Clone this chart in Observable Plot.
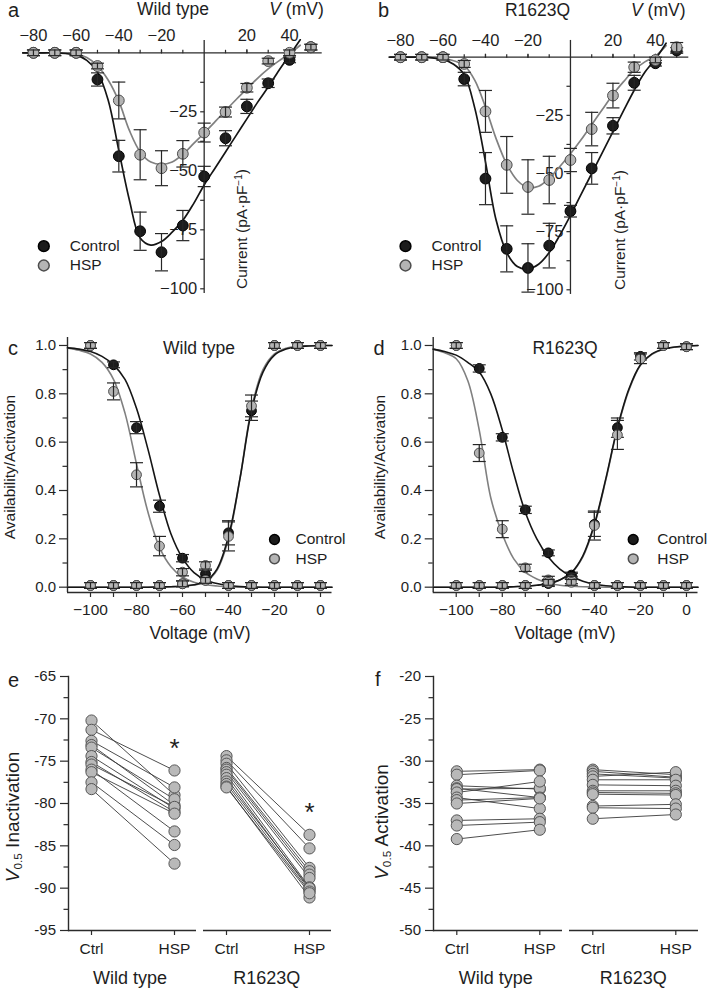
<!DOCTYPE html>
<html><head><meta charset="utf-8">
<script src="https://cdn.jsdelivr.net/npm/d3@7"></script>
<script src="https://cdn.jsdelivr.net/npm/@observablehq/plot@0.6"></script>
<style>
body{margin:0;background:#fff;}
#fig{position:relative;width:709px;height:989px;font-family:"Liberation Sans",Arial,sans-serif;color:#1e1e1e;overflow:hidden;background:#fff}
.lbl{position:absolute;white-space:nowrap;line-height:1}
.lbl sup{font-size:0.65em;vertical-align:0.55em;line-height:0}
.lbl sub{font-size:0.62em;vertical-align:-0.3em;line-height:0}
</style></head><body><div id="fig"></div><script>
// ---------- Panel a / b : current–voltage ----------
const ivV = [-80,-70,-60,-50,-40,-30,-20,-10,0,10,20,30,40,50];
const aCtrl    = [0,0,0,-11.3,-43.8,-75.6,-84.5,-73.2,-52.4,-36.2,-22.7,-12.9,-3.0,2.4];
const aCtrlErr = [1.2,1.2,1.2,2.8,6.7,8.1,7.9,6.4,4.3,3.2,3.0,1.8,1.2,1.2];
const aHsp     = [0,0,0,-5.6,-20.2,-43.2,-48.9,-42.8,-33.8,-25.1,-14.8,-3.5,0,2.4];
const aHspErr  = [1.2,1.2,1.2,1.2,7.8,10.6,7.4,5.6,4.0,2.1,1.8,1.2,1.2,1.2];
const bCtrl    = [0,0,0,-9.4,-52.2,-82.4,-90.6,-81.0,-66.2,-47.8,-29.5,-11.0,-2.6,2.9];
const bCtrlErr = [1.2,1.2,1.2,2.9,11.2,9.9,10.4,9.6,2.5,6.8,3.5,3.2,1.2,1.2];
const bHsp     = [0,0,0,-2.9,-23.3,-46.3,-55.8,-52.8,-44.2,-30.9,-16.5,-4.3,-1.2,4.3];
const bHspErr  = [1.2,1.2,1.2,1.5,9.0,12.2,11.7,10.2,5.0,7.2,5.3,2.2,1.2,2.0];
const ivFitV   = [-85,-80,-75,-70,-65,-60,-55,-50,-45,-40,-35,-30,-25,-20,-15,-10,-5,0,5,10,15,20,25,30,35,40,45];
const aFitCtrl = [0,0,0,0,-0.3,-1,-3.2,-8.2,-20,-41.4,-62.6,-78.5,-81.5,-80,-76,-71,-64,-56,-49,-42,-35,-28,-21,-14.5,-7.5,-1,5.5];
const aFitHsp  = [0,0,0,0,-0.2,-0.5,-2,-5.5,-11.5,-20.5,-33,-42,-46.3,-47.3,-46.3,-43,-38.5,-34,-29.3,-24.5,-19.8,-15.3,-10.8,-6.8,-3.4,-0.4,3.2];
const bFitCtrl = [0,0,0,0,-0.3,-1,-3,-7.5,-22,-45,-70,-84,-90,-91,-89,-84,-76.5,-68,-59,-50,-41,-32,-23,-14.2,-6.5,-0.8,6];
const bFitHsp  = [0,0,0,0,-0.2,-0.5,-1.5,-3.5,-10,-21.5,-35,-46,-53,-56,-55.5,-52,-47,-41.5,-35.5,-29,-22.5,-16,-10.5,-5.5,-2,0.5,5];
const ivXMinorTicks = [-80,-70,-60,-50,-40,-30,-20,-10,10,20,30,40,50];
const ivXLabelTicks = [-80,-60,-40,-20,20,40];
const ivYTicks = [-12.5,-25,-37.5,-50,-62.5,-75,-87.5,-100];
const ivYLabelTicks = [-25,-50,-75,-100];

// ---------- Panel c / d : availability / activation ----------
const ssV = [-100,-90,-80,-70,-60,-50,-40,-30,-20,-10,0];
const cInactCtrl    = [1.0,0.92,0.66,0.335,0.12,0.055,0.007,0.007,0.007,0.007,0.007];
const cInactCtrlErr = [0.012,0.012,0.025,0.025,0.015,0.015,0.012,0.012,0.012,0.012,0.012];
const cActCtrl      = [0.007,0.007,0.007,0.007,0.014,0.03,0.225,0.73,1.0,1.0,1.0];
const cActCtrlErr   = [0.012,0.012,0.012,0.012,0.012,0.012,0.05,0.04,0.012,0.012,0.012];
const cInactHsp     = [1.0,0.81,0.465,0.17,0.062,0.09,0.007,0.007,0.007,0.007,0.007];
const cInactHspErr  = [0.012,0.035,0.05,0.04,0.015,0.015,0.012,0.012,0.012,0.012,0.012];
const cActHsp       = [0.007,0.007,0.007,0.007,0.014,0.028,0.21,0.75,1.0,1.0,1.0];
const cActHspErr    = [0.012,0.012,0.012,0.012,0.012,0.012,0.06,0.045,0.012,0.012,0.012];
const dInactCtrl    = [1.0,0.905,0.62,0.32,0.142,0.05,0.007,0.007,0.007,0.007,0.007];
const dInactCtrlErr = [0.012,0.015,0.015,0.015,0.012,0.012,0.012,0.012,0.012,0.012,0.012];
const dActCtrl      = [0.007,0.007,0.007,0.007,0.015,0.045,0.26,0.66,0.955,1.0,0.995];
const dActCtrlErr   = [0.012,0.012,0.012,0.012,0.012,0.012,0.05,0.04,0.015,0.012,0.012];
const dInactHsp     = [1.0,0.555,0.24,0.08,0.03,0.03,0.007,0.007,0.007,0.007,0.007];
const dInactHspErr  = [0.012,0.035,0.035,0.015,0.015,0.015,0.012,0.012,0.012,0.012,0.012];
const dActHsp       = [0.007,0.007,0.007,0.007,0.02,0.02,0.255,0.63,0.945,1.0,0.995];
const dActHspErr    = [0.012,0.012,0.012,0.012,0.012,0.012,0.06,0.06,0.02,0.012,0.012];
const ssFitV = [-110,-105,-100,-95,-90,-85,-80,-75,-70,-65,-60,-55,-50,-45,-40,-35,-30,-25,-20,-15,-10,-5,0,5];
const cFitInactCtrl = [0.99,0.985,0.975,0.955,0.92,0.86,0.74,0.57,0.38,0.22,0.12,0.06,0.03,0.015,0.007,0.003,0.001,0,0,0,0,0,0,0];
const cFitInactHsp  = [0.99,0.98,0.965,0.93,0.86,0.72,0.51,0.31,0.165,0.085,0.042,0.02,0.01,0.005,0.002,0,0,0,0,0,0,0,0,0];
const cFitActCtrl   = [0,0,0,0,0,0,0,0,0.001,0.002,0.005,0.01,0.025,0.075,0.21,0.45,0.73,0.89,0.96,0.985,0.995,0.998,1,1];
const cFitActHsp    = [0,0,0,0,0,0,0,0,0.001,0.002,0.004,0.009,0.022,0.07,0.2,0.45,0.74,0.9,0.965,0.988,0.996,0.999,1,1];
const dFitInactCtrl = [0.985,0.975,0.96,0.93,0.89,0.8,0.65,0.47,0.31,0.2,0.125,0.075,0.045,0.025,0.013,0.006,0.003,0.001,0,0,0,0,0,0];
const dFitInactHsp  = [0.985,0.97,0.945,0.855,0.65,0.37,0.22,0.117,0.062,0.034,0.017,0.008,0.004,0.002,0.001,0,0,0,0,0,0,0,0,0];
const dFitActCtrl   = [0,0,0,0,0,0,0,0.002,0.004,0.008,0.015,0.03,0.06,0.13,0.26,0.45,0.66,0.82,0.92,0.965,0.985,0.994,0.998,1];
const dFitActHsp    = [0,0,0,0,0,0,0,0.002,0.004,0.008,0.015,0.03,0.058,0.125,0.255,0.445,0.655,0.815,0.918,0.963,0.984,0.993,0.997,1];
const ssXDomain = [-110, 5];
const ssYDomain = [-0.022, 1.033];
const ssXLabelTicks = [-100,-80,-60,-40,-20,0];
const ssXMinorTicks = [-90,-70,-50,-30,-10];
const ssYLabelTicks = [0,0.2,0.4,0.6,0.8,1.0];
const ssYMinorTicks = [0.1,0.3,0.5,0.7,0.9];

// ---------- Panel e / f : paired V0.5 ----------
const groups = ["Wild type", "R1623Q"];
const conditions = ["Ctrl", "HSP"];
const eWtCtrl = [-70.2,-71.3,-72.6,-73.1,-73.4,-74.4,-75.1,-75.4,-76.0,-76.3,-77.5,-78.3];
const eWtHsp  = [-79.0,-76.1,-78.1,-80.2,-79.5,-80.6,-81.0,-80.4,-83.3,-81.2,-84.9,-87.1];
const eRCtrl  = [-74.4,-74.9,-75.3,-75.8,-76.0,-76.3,-76.6,-77.0,-77.4,-77.7,-78.0,-78.1];
const eRHsp   = [-83.7,-85.3,-87.6,-88.0,-88.4,-88.8,-89.9,-90.2,-90.0,-90.4,-91.1,-90.6];
const eStarY  = [-72.8, -80.4];
const fWtCtrl = [-31.2,-31.6,-32.9,-33.2,-33.3,-33.7,-34.3,-34.6,-35.0,-37.0,-37.6,-39.2];
const fWtHsp  = [-31.0,-31.1,-33.3,-34.3,-33.2,-32.4,-35.6,-34.3,-34.4,-36.8,-37.2,-38.1];
const fRCtrl  = [-31.0,-31.2,-31.5,-31.8,-32.2,-32.8,-33.5,-33.7,-33.9,-35.3,-35.5,-36.8];
const fRHsp   = [-31.6,-31.9,-32.0,-31.3,-32.2,-32.9,-33.5,-33.8,-34.0,-35.1,-35.6,-36.3];
const eYDomain = [-95, -65];
const eYTicks = [-95,-90,-85,-80,-75,-70,-65];
const eYMinor = [-92.5,-87.5,-82.5,-77.5,-72.5,-67.5];
const fYDomain = [-50, -20];
const fYTicks = [-50,-45,-40,-35,-30,-25,-20];
const fYMinor = [-47.5,-42.5,-37.5,-32.5,-27.5,-22.5];

// ---------- styling ----------
const FONT = '"Liberation Sans", Arial, sans-serif';
const AX = "#2b2b2b", ERR = "#262626";
const BLK_FILL = "#1c1c1c", BLK_STROKE = "#000";
const GRY_FILL = "#b4b4b4", GRY_STROKE = "#4d4d4d";
const BLK_LINE = "#151515", GRY_LINE = "#808080";
const TXT = "#1e1e1e";
const baseStyle = {background: "transparent", overflow: "visible", fontFamily: FONT, fontSize: "15px", color: AX};
const fig = document.getElementById("fig");

const capSym = {draw(ctx, size) { const r = Math.sqrt(size / Math.PI); ctx.moveTo(-r, 0); ctx.lineTo(r, 0); }};
const tickLeftSym = {draw(ctx, size) { const r = Math.sqrt(size / Math.PI); ctx.moveTo(-r, 0); ctx.lineTo(0, 0); }};
const minusFmt = d => d < 0 ? "\u2212" + (-d) : String(d);

function place(svg, left, top) {
  svg.style.position = "absolute"; svg.style.left = left + "px"; svg.style.top = top + "px";
  fig.appendChild(svg);
}
function lbl(html, x, base, size, anchor = "start") {
  const d = document.createElement("div"); d.className = "lbl"; d.innerHTML = html;
  d.style.fontSize = size + "px"; d.style.left = x + "px"; d.style.top = (base - 0.8465 * size) + "px";
  if (anchor === "middle") d.style.transform = "translateX(-50%)";
  if (anchor === "end") d.style.transform = "translateX(-100%)";
  fig.appendChild(d);
}
function rot(html, cx, cy, size) {
  const d = document.createElement("div"); d.className = "lbl"; d.innerHTML = html;
  d.style.fontSize = size + "px"; d.style.left = cx + "px"; d.style.top = cy + "px";
  d.style.transform = "translate(-50%,-50%) rotate(-90deg)";
  fig.appendChild(d);
}
const rows = (xs, ys, es) => xs.map((v, i) => ({v, y: ys[i], e: es[i]}));
function series(data, fill, stroke, r, capR) {
  return [
    Plot.dot(data, {x: "v", y: "y", r, fill, stroke, strokeWidth: 1}),
    Plot.ruleX(data, {x: "v", y1: d => d.y - d.e, y2: d => d.y + d.e, stroke: ERR, strokeWidth: 1.2}),
    Plot.dot(data, {x: "v", y: d => d.y + d.e, symbol: capSym, r: capR, fill: "none", stroke: ERR, strokeWidth: 1.2}),
    Plot.dot(data, {x: "v", y: d => d.y - d.e, symbol: capSym, r: capR, fill: "none", stroke: ERR, strokeWidth: 1.2})
  ];
}
function legend(dx, dy, dy2, tdx, r) {
  return [
    Plot.dot([0], {frameAnchor: "top-left", dx, dy, r, fill: BLK_FILL, stroke: BLK_STROKE}),
    Plot.dot([0], {frameAnchor: "top-left", dx, dy: dy2, r, fill: GRY_FILL, stroke: GRY_STROKE}),
    Plot.text(["Control"], {frameAnchor: "top-left", dx: tdx, dy, textAnchor: "start", lineAnchor: "middle", fontSize: 15.5, fill: TXT}),
    Plot.text(["HSP"], {frameAnchor: "top-left", dx: tdx, dy: dy2, textAnchor: "start", lineAnchor: "middle", fontSize: 15.5, fill: TXT})
  ];
}

// ---------- IV panels ----------
function ivPanel(cfg) {
  const fit = ivFitV.map((v, i) => ({v, ctrl: cfg.fitCtrl[i], hsp: cfg.fitHsp[i]}));
  return Plot.plot({
    width: cfg.width, height: 300,
    marginLeft: cfg.ml, marginRight: cfg.mr, marginTop: cfg.mt, marginBottom: cfg.mb,
    x: {domain: cfg.xDomain},
    y: {domain: [-100, 0], axis: null},
    style: baseStyle,
    marks: [
      Plot.ruleY([0], {stroke: AX, strokeWidth: 1.3}),
      Plot.ruleX([0], {y1: cfg.yTop, y2: -102, stroke: AX, strokeWidth: 1.3}),
      Plot.axisX({anchor: "top", ticks: ivXMinorTicks, tickSize: 3.5, tickFormat: () => "", label: null, strokeWidth: 1.2}),
      Plot.axisX({anchor: "top", ticks: ivXLabelTicks, tickSize: 4, tickPadding: 7.5, fontSize: 16.5, label: null, strokeWidth: 1.2, fill: TXT}),
      Plot.dot(ivYTicks, {x: 0, y: d => d, symbol: tickLeftSym, r: 4, fill: "none", stroke: AX, strokeWidth: 1.2}),
      Plot.text(ivYLabelTicks, {x: 0, y: d => d, text: minusFmt, dx: -7, textAnchor: "end", fontSize: 16.5, fill: TXT}),
      Plot.line(fit, {x: "v", y: "hsp", curve: "catmull-rom", stroke: GRY_LINE, strokeWidth: 1.7}),
      Plot.line(fit, {x: "v", y: "ctrl", curve: "catmull-rom", stroke: BLK_LINE, strokeWidth: 1.7}),
      ...series(rows(ivV, cfg.ctrl, cfg.ctrlErr), BLK_FILL, BLK_STROKE, 5.4, 6.5),
      ...series(rows(ivV, cfg.hsp, cfg.hspErr), GRY_FILL, GRY_STROKE, 5.4, 6.5),
      ...legend(cfg.lg[0], cfg.lg[1], cfg.lg[2], cfg.lg[3], 5.4)
    ]
  });
}
place(ivPanel({width: 355, ml: 22.7, mr: 33.3, mt: 52.3, mb: 11.7, xDomain: [-84.8, 55.3], yTop: 5.2,
  ctrl: aCtrl, ctrlErr: aCtrlErr, hsp: aHsp, hspErr: aHspErr, fitCtrl: aFitCtrl, fitHsp: aFitHsp,
  lg: [20.6, 193.4, 212.7, 46.6]}), 0, 0);
place(ivPanel({width: 354, ml: 33.3, mr: 20.7, mt: 56.7, mb: 10.7, xDomain: [-85.5, 55.7], yTop: 7.2,
  ctrl: bCtrl, ctrlErr: bCtrlErr, hsp: bHsp, hspErr: bHspErr, fitCtrl: bFitCtrl, fitHsp: bFitHsp,
  lg: [16.7, 189, 208.3, 42.7]}), 355, 0);

// ---------- steady-state panels ----------
function ssPanel(cfg) {
  const fit = ssFitV.map((v, i) => ({v, ic: cfg.fIC[i], ih: cfg.fIH[i], ac: cfg.fAC[i], ah: cfg.fAH[i]}));
  return Plot.plot({
    width: cfg.width, height: 330,
    marginLeft: cfg.ml, marginRight: cfg.mr, marginTop: 37, marginBottom: 38,
    x: {domain: ssXDomain},
    y: {domain: ssYDomain},
    style: baseStyle,
    marks: [
      Plot.ruleX([ssXDomain[0]], {stroke: AX, strokeWidth: 1.4}),
      Plot.ruleY([ssYDomain[0]], {stroke: AX, strokeWidth: 1.4}),
      Plot.axisY({ticks: ssYLabelTicks, tickSize: 8, tickPadding: 3.5, tickFormat: ".1f", fontSize: 15, label: null, strokeWidth: 1.2, fill: TXT}),
      Plot.axisY({ticks: ssYMinorTicks, tickSize: 4.5, tickFormat: () => "", label: null, strokeWidth: 1.2}),
      Plot.axisX({ticks: ssXLabelTicks, tickSize: 5, tickPadding: 6.5, fontSize: 15.5, label: null, strokeWidth: 1.2, fill: TXT}),
      Plot.axisX({ticks: ssXMinorTicks, tickSize: 5, tickFormat: () => "", label: null, strokeWidth: 1.2}),
      Plot.line(fit, {x: "v", y: "ih", curve: "catmull-rom", stroke: GRY_LINE, strokeWidth: 1.6}),
      Plot.line(fit, {x: "v", y: "ah", curve: "catmull-rom", stroke: GRY_LINE, strokeWidth: 1.6}),
      Plot.line(fit, {x: "v", y: "ic", curve: "catmull-rom", stroke: BLK_LINE, strokeWidth: 1.6}),
      Plot.line(fit, {x: "v", y: "ac", curve: "catmull-rom", stroke: BLK_LINE, strokeWidth: 1.6}),
      ...series(rows(ssV, cfg.IC, cfg.ICe), BLK_FILL, BLK_STROKE, 4.9, 6.5),
      ...series(rows(ssV, cfg.AC, cfg.ACe), BLK_FILL, BLK_STROKE, 4.9, 6.5),
      ...series(rows(ssV, cfg.IH, cfg.IHe), GRY_FILL, GRY_STROKE, 4.9, 6.5),
      ...series(rows(ssV, cfg.AH, cfg.AHe), GRY_FILL, GRY_STROKE, 4.9, 6.5),
      ...legend(cfg.lg[0], cfg.lg[1], cfg.lg[2], cfg.lg[3], 4.9)
    ]
  });
}
place(ssPanel({width: 355, ml: 67, mr: 23.5,
  IC: cInactCtrl, ICe: cInactCtrlErr, AC: cActCtrl, ACe: cActCtrlErr,
  IH: cInactHsp, IHe: cInactHspErr, AH: cActHsp, AHe: cActHspErr,
  fIC: cFitInactCtrl, fIH: cFitInactHsp, fAC: cFitActCtrl, fAH: cFitActHsp,
  lg: [207, 202, 221.3, 228]}), 0, 300);
place(ssPanel({width: 354, ml: 77.7, mr: 11.5,
  IC: dInactCtrl, ICe: dInactCtrlErr, AC: dActCtrl, ACe: dActCtrlErr,
  IH: dInactHsp, IHe: dInactHspErr, AH: dActHsp, AHe: dActHspErr,
  fIC: dFitInactCtrl, fIH: dFitInactHsp, fAC: dFitActCtrl, fAH: dFitActHsp,
  lg: [200, 202, 221.3, 224]}), 355, 300);

// ---------- paired panels ----------
function pairPanel(cfg) {
  const data = [
    ...cfg.wtC.map((c, i) => ({group: groups[0], ctrl: c, hsp: cfg.wtH[i]})),
    ...cfg.rC.map((c, i) => ({group: groups[1], ctrl: c, hsp: cfg.rH[i]}))
  ];
  const stars = cfg.stars ? groups.map((g, i) => ({group: g, y: cfg.stars[i]})) : [];
  const dotOpt = {r: 5.6, fill: "#b9b9b9", stroke: "#555", strokeWidth: 1};
  return Plot.plot({
    width: cfg.width, height: 369,
    marginLeft: cfg.ml, marginRight: cfg.mr, marginTop: 56, marginBottom: 59,
    fx: {domain: groups, padding: 0.05, axis: null},
    x: {type: "point", domain: conditions, padding: 0.27},
    y: {domain: cfg.yDomain},
    style: baseStyle,
    marks: [
      Plot.frame({anchor: "left", facetAnchor: "left", stroke: AX, strokeWidth: 1.4}),
      Plot.ruleY([cfg.yDomain[0]], {stroke: AX, strokeWidth: 1.4}),
      Plot.axisY({ticks: cfg.yTicks, tickSize: 8, tickPadding: 4.5, tickFormat: d => String(d), fontSize: 15, label: null, strokeWidth: 1.2, fill: TXT}),
      Plot.axisY({ticks: cfg.yMinor, tickSize: 4.5, tickFormat: () => "", label: null, strokeWidth: 1.2}),
      Plot.axisX({tickSize: 5, tickPadding: 7.5, fontSize: 15.5, label: null, strokeWidth: 1.2, fill: TXT}),
      Plot.link(data, {fx: "group", x1: () => "Ctrl", x2: () => "HSP", y1: "ctrl", y2: "hsp", stroke: "#3a3a3a", strokeWidth: 0.9}),
      Plot.dot(data, {fx: "group", x: () => "Ctrl", y: "ctrl", ...dotOpt}),
      Plot.dot(data, {fx: "group", x: () => "HSP", y: "hsp", ...dotOpt}),
      Plot.text(stars, {fx: "group", x: () => "HSP", y: "y", text: () => "*", fontSize: 26, dy: 6, fill: TXT})
    ]
  });
}
place(pairPanel({width: 355, ml: 67, mr: 23, yDomain: eYDomain, yTicks: eYTicks, yMinor: eYMinor,
  wtC: eWtCtrl, wtH: eWtHsp, rC: eRCtrl, rH: eRHsp, stars: eStarY}), 0, 620);
place(pairPanel({width: 354, ml: 77.7, mr: 11, yDomain: fYDomain, yTicks: fYTicks, yMinor: fYMinor,
  wtC: fWtCtrl, wtH: fWtHsp, rC: fRCtrl, rH: fRHsp, stars: null}), 355, 620);

// ---------- text ----------
lbl("a", 8, 17, 20); lbl("b", 378, 17, 20);
lbl("c", 8, 355, 20); lbl("d", 373.5, 355, 20);
lbl("e", 8, 687, 20); lbl("f", 375, 686, 20);
lbl("Wild type", 173, 16, 17.5, "middle");
lbl("<i>V</i> (mV)", 269.3, 16, 17.5);
lbl("R1623Q", 537.5, 16.7, 17.5, "middle");
lbl("<i>V</i> (mV)", 631, 16.7, 17.5);
lbl("Wild type", 199, 355, 17.5, "middle");
lbl("R1623Q", 565, 355, 17.5, "middle");
lbl("Voltage (mV)", 200, 640, 17.5, "middle");
lbl("Voltage (mV)", 565, 640, 17.5, "middle");
lbl("Wild type", 130, 984, 18, "middle");
lbl("R1623Q", 266.7, 984, 18, "middle");
lbl("Wild type", 495.8, 984, 18, "middle");
lbl("R1623Q", 633.3, 984, 18, "middle");
rot("Current (pA\u00b7pF<sup>\u22121</sup>)", 242, 229, 15.5);
rot("Current (pA\u00b7pF<sup>\u22121</sup>)", 620, 230, 15.5);
rot("Availability/Activation", 10, 467, 15.5);
rot("Availability/Activation", 379.5, 466.5, 15.5);
rot("<i>V</i><sub>0.5</sub> Inactivation", 12, 816.5, 19);
rot("<i>V</i><sub>0.5</sub> Activation", 381, 821.5, 19);
</script></body></html>
